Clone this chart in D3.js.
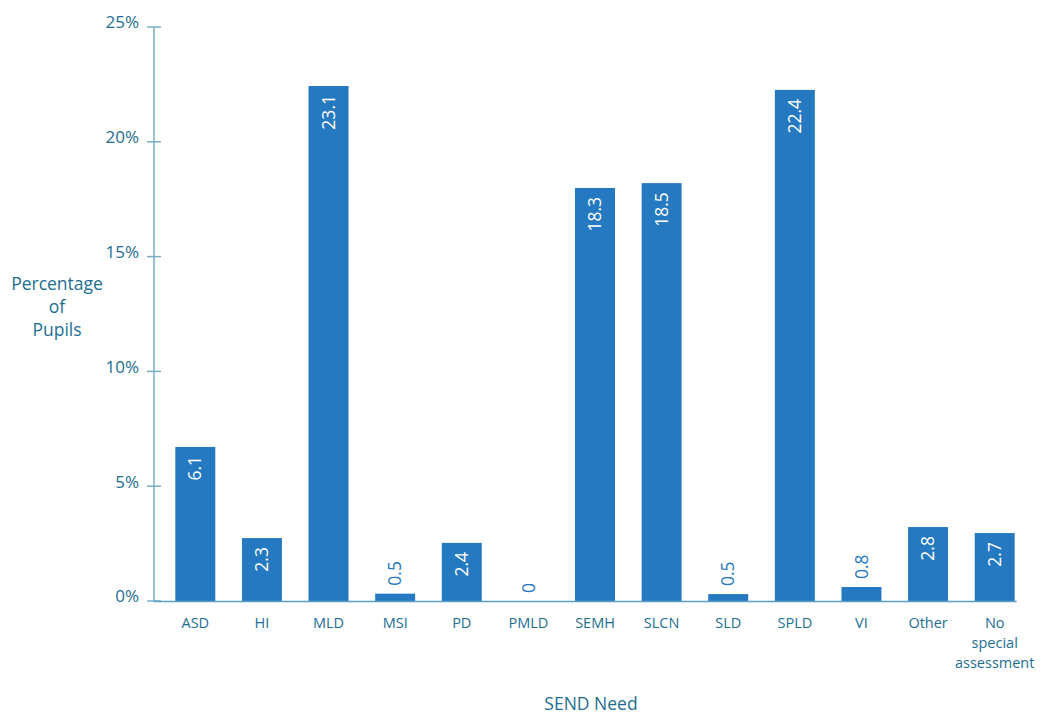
<!DOCTYPE html>
<html>
<head>
<meta charset="utf-8">
<script src="https://cdn.jsdelivr.net/npm/d3@7"></script>
<style>
  body { margin: 0; background: #fff; }
  svg text { font-family: "Open Sans", "Noto Sans", sans-serif; }
</style>
</head>
<body>
<svg id="chart"></svg>
<script>
// categories and values
var categories = ["ASD", "HI", "MLD", "MSI", "PD", "PMLD", "SEMH", "SLCN", "SLD", "SPLD", "VI", "Other", "No special assessment"];
// bar heights (percent) as drawn
var heights = [6.71, 2.74, 22.43, 0.32, 2.53, 0, 17.99, 18.2, 0.3, 22.26, 0.61, 3.22, 2.96];
// the printed data labels
var labels = ["6.1", "2.3", "23.1", "0.5", "2.4", "0", "18.3", "18.5", "0.5", "22.4", "0.8", "2.8", "2.7"];
var yTicks = [0, 5, 10, 15, 20, 25];

var W = 1046, H = 715;
var margin = {top: 27, right: 0, bottom: 114, left: 154};
var width = W - margin.left - margin.right,
    height = H - margin.top - margin.bottom;

var svg = d3.select("#chart").attr("width", W).attr("height", H);
var g = svg.append("g").attr("transform", "translate(" + margin.left + "," + margin.top + ")");

var barColor = "#2479c0",
    textColor = "#1d6e91";

var x = d3.scaleBand()
    .domain(categories)
    .range([0, 882])
    .paddingInner(0.4)
    .paddingOuter(0.32);

var y = d3.scaleLinear()
    .domain([0, 25])
    .range([height, 0]);

// bars
g.selectAll(".bar")
    .data(categories)
    .enter()
    .append("rect")
    .attr("class", "bar")
    .attr("x", function (d) { return x(d); })
    .attr("y", function (d, i) { return y(heights[i]); })
    .attr("width", x.bandwidth())
    .attr("height", function (d, i) { return y(0) - y(heights[i]); })
    .style("fill", barColor);

// y axis
var yAxis = d3.axisLeft(y)
    .tickValues(yTicks)
    .tickFormat(function (d) { return d + "%"; })
    .tickSize(0);
var ya = g.append("g").call(yAxis);
ya.select(".domain").remove();
ya.selectAll("text")
    .attr("x", -15)
    .attr("dy", "0.05em")
    .style("font-size", "17px")
    .style("fill", textColor);
g.append("line")
    .attr("x1", 0).attr("x2", 0)
    .attr("y1", y(25)).attr("y2", y(0))
    .style("stroke", "#7aaec6").style("stroke-width", 1.5);
g.selectAll(".ytick")
    .data(yTicks)
    .enter()
    .append("line")
    .attr("class", "ytick")
    .attr("x1", -7).attr("x2", 7)
    .attr("y1", function (d) { return y(d); })
    .attr("y2", function (d) { return y(d); })
    .style("stroke", "#7aaec6").style("stroke-width", 1.5);

// baseline
var last = categories[categories.length - 1];
g.append("line")
    .attr("x1", 0).attr("x2", x(last) + x.bandwidth() + 2)
    .attr("y1", y(0) + 0.5).attr("y2", y(0) + 0.5)
    .style("stroke", "#5b9fc6").style("stroke-width", 1.5);

// x labels
var xl = g.selectAll(".xlabel")
    .data(categories)
    .enter()
    .append("text")
    .attr("class", "xlabel")
    .attr("text-anchor", "middle")
    .attr("transform", function (d) {
        return "translate(" + (x(d) + x.bandwidth() / 2) + "," + (y(0) + 27) + ")";
    })
    .style("font-size", "14.5px")
    .style("fill", textColor);
xl.each(function (d) {
    var words = d.split(" ");
    var t = d3.select(this);
    words.forEach(function (w, k) {
        t.append("tspan").attr("x", 0).attr("y", k * 20).text(w);
    });
});

// data labels, rotated
g.selectAll(".dlabel")
    .data(categories)
    .enter()
    .append("text")
    .attr("class", "dlabel")
    .attr("transform", function (d, i) {
        var cx = x(d) + x.bandwidth() / 2;
        return "translate(" + cx + "," + y(heights[i]) + ") rotate(-90)";
    })
    .attr("x", function (d, i) { return heights[i] > 2 ? -9 : 8; })
    .attr("dy", "0.35em")
    .attr("text-anchor", function (d, i) { return heights[i] > 2 ? "end" : "start"; })
    .style("font-size", "17.5px")
    .style("fill", function (d, i) { return heights[i] > 2 ? "#ffffff" : barColor; })
    .text(function (d, i) { return labels[i]; });

// axis titles
var yt = svg.append("text")
    .attr("text-anchor", "middle")
    .style("font-size", "17.5px")
    .style("fill", textColor);
["Percentage", "of", "Pupils"].forEach(function (w, k) {
    yt.append("tspan").attr("x", 57).attr("y", 290 + k * 23).text(w);
});
svg.append("text")
    .attr("x", 591).attr("y", 710)
    .attr("text-anchor", "middle")
    .style("font-size", "17.5px")
    .style("fill", textColor)
    .text("SEND Need");
</script>
</body>
</html>
